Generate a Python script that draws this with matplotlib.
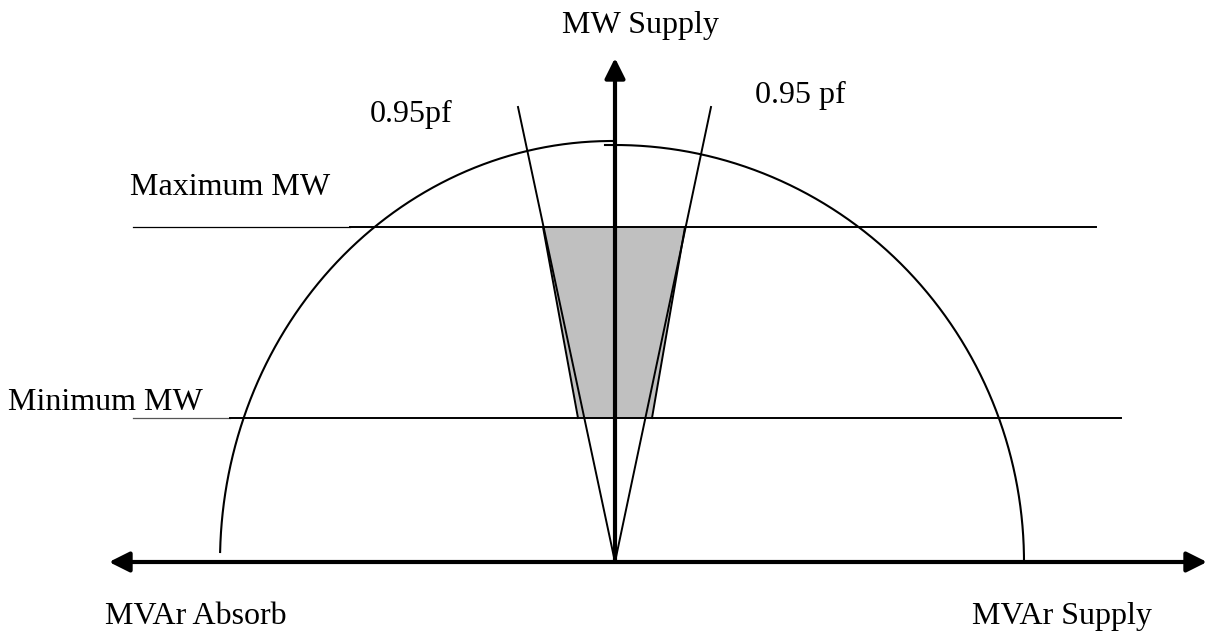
import numpy as np
import matplotlib
matplotlib.use("Agg")
import matplotlib.pyplot as plt

# diagram values, origin = (0 MVAr, 0 MW)
max_mw = 335
min_mw = 144
max_mw_span = [-482, -265, 481]       # thin start, then solid line to end
min_mw_span = [-482, -385, 506]
pf_left_top = [-97, 455]
pf_right_top = [96, 455]
shade_x = [-72, 70, 37, -37]
shade_y = [max_mw, max_mw, min_mw, min_mw]
arc_left = dict(cx=-3, rx=392, ry=421, y_end=10)
arc_right = dict(cx=0, rx=409, ry=417, tick=-10)
q_axis = [-506, 592]
p_axis_top = 504

labels = {
    "MW Supply": (-53, 529),
    "0.95pf": (-245, 440),
    "0.95 pf": (140, 459),
    "Maximum MW": (-485, 367),
    "Minimum MW": (-607, 152),
    "MVAr Absorb": (-510, -62),
    "MVAr Supply": (357, -62),
}

plt.rcParams['font.family'] = ['Liberation Serif', 'DejaVu Serif']

fig = plt.figure(figsize=(12.16, 6.33), dpi=100)
ax = fig.add_axes([0, 0, 1, 1])
ax.set_xlim(-615, 601)
ax.set_ylim(-71, 562)
ax.axis('off')

# operating region
ax.fill(shade_x, shade_y, color='#c0c0c0', lw=0, zorder=1)
ax.plot([shade_x[0], shade_x[3]], [shade_y[0], shade_y[3]], color='black', lw=1.4, zorder=2)
ax.plot([shade_x[1], shade_x[2]], [shade_y[1], shade_y[2]], color='black', lw=1.4, zorder=2)

# MW limits
ax.plot(max_mw_span[:2], [max_mw, max_mw], color='black', lw=0.9, zorder=2)
ax.plot(max_mw_span[1:], [max_mw, max_mw], color='black', lw=1.4, zorder=2)
ax.plot(min_mw_span[:2], [min_mw, min_mw], color='#555555', lw=0.9, zorder=2)
ax.plot(min_mw_span[1:], [min_mw, min_mw], color='black', lw=1.4, zorder=2)

# power factor lines
ax.plot([0, pf_left_top[0]], [0, pf_left_top[1]], color='black', lw=1.4, zorder=2)
ax.plot([0, pf_right_top[0]], [0, pf_right_top[1]], color='black', lw=1.4, zorder=2)

# capability arc (two quarters)
t0 = np.arcsin(arc_left['y_end'] / arc_left['ry'])
t = np.linspace(np.pi - t0, np.pi / 2, 200)
ax.plot(arc_left['cx'] + arc_left['rx'] * np.cos(t), arc_left['ry'] * np.sin(t),
        color='black', lw=1.5, zorder=2)
t = np.linspace(np.pi / 2, 0, 200)
xr = np.r_[arc_right['tick'], arc_right['cx'] + arc_right['rx'] * np.cos(t)]
yr = np.r_[arc_right['ry'], arc_right['ry'] * np.sin(t)]
ax.plot(xr, yr, color='black', lw=1.5, zorder=2)

# axes arrows
style = '<|-|>,head_length=1.0,head_width=0.5'
ax.annotate('', xy=(q_axis[1], 0), xytext=(q_axis[0], 0),
            arrowprops=dict(arrowstyle=style, color='black', lw=3,
                            mutation_scale=12.2, shrinkA=0, shrinkB=0), zorder=3)
ax.annotate('', xy=(0, p_axis_top), xytext=(0, 0),
            arrowprops=dict(arrowstyle='-|>,head_length=1.0,head_width=0.5', color='black', lw=3,
                            mutation_scale=12.2, shrinkA=0, shrinkB=0), zorder=3)

for txt, (x, y) in labels.items():
    ax.text(x, y, txt, fontsize=23, ha='left', va='baseline', color='black')

fig.savefig('out.png', dpi=100)
